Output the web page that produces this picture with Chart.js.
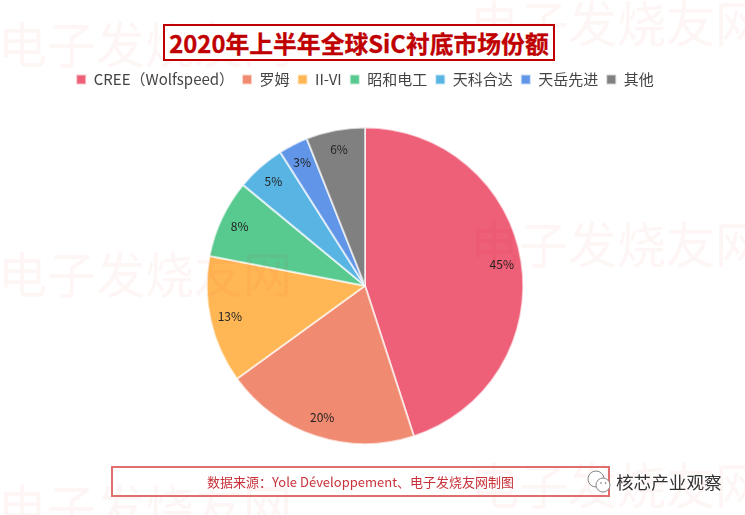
<!DOCTYPE html>
<html>
<head>
<meta charset="utf-8">
<script src="https://cdn.jsdelivr.net/npm/chart.js@4"></script>
<style>
    html, body { margin: 0; padding: 0; background: #fff; }
    body { width: 745px; height: 515px; position: relative; overflow: hidden; font-family: "Noto Sans CJK SC", sans-serif; }
    .wm { position: absolute; color: #d81e1e; opacity: 0.045; font-size: 49px; white-space: nowrap; line-height: 1; }
    #wrap { position: absolute; left: 0; top: 0; width: 745px; height: 515px; }
    #title { position: absolute; left: 163px; top: 24px; width: 388px; height: 33px; border: 2px solid #c00000; background: #fff; color: #c00000; font-size: 23.8px; font-weight: 700; -webkit-text-stroke: 0.3px #c00000; line-height: 33px; text-align: center; white-space: nowrap; }
    #source { position: absolute; left: 111px; top: 466px; width: 495px; height: 27px; border: 2px solid #de6f6e; color: #c8323a; font-size: 13px; line-height: 27px; text-align: center; white-space: nowrap; }
    #brand { position: absolute; left: 616px; top: 470px; color: #333; font-size: 17.6px; line-height: 24px; white-space: nowrap; }
    #icon { position: absolute; left: 586px; top: 468px; }
</style>
</head>
<body>
<div id="wrap"><canvas id="pieChart" width="745" height="515"></canvas></div>
<div class="wm" style="left:-2px;top:17px">电子发烧友网</div>
<div class="wm" style="left:470px;top:-4px">电子发烧友网</div>
<div class="wm" style="left:-2px;top:247px">电子发烧友网</div>
<div class="wm" style="left:470px;top:217px">电子发烧友网</div>
<div class="wm" style="left:-2px;top:480px">电子发烧友网</div>
<div class="wm" style="left:470px;top:458px">电子发烧友网</div>
<div id="title">2020年上半年全球SiC衬底市场份额</div>
<div id="source">数据来源：Yole Développement、电子发烧友网制图</div>
<svg id="icon" width="28" height="28" viewBox="0 0 28 28" fill="#fff" stroke="#888" stroke-width="1">
    <circle cx="10" cy="11" r="8"/>
    <circle cx="17" cy="17" r="7"/>
    <circle cx="15" cy="15" r="0.8" fill="#666" stroke="none"/>
    <circle cx="19.5" cy="15" r="0.8" fill="#666" stroke="none"/>
</svg>
<div id="brand">核芯产业观察</div>
<script>
// 数据
const categories = ['CREE（Wolfspeed）', '罗姆', 'II-VI', '昭和电工', '天科合达', '天岳先进', '其他'];
const shares = [45, 20, 13, 8, 5, 3, 6];
const colors = ['#ee5f78', '#f08a70', '#ffb755', '#58c98f', '#58b4e3', '#6095e8', '#808080'];

// 百分比标签
const percentLabels = {
    id: 'percentLabels',
    afterDatasetsDraw(chart) {
        const ctx = chart.ctx;
        const arcs = chart.getDatasetMeta(0).data;
        ctx.save();
        ctx.font = '12px "Noto Sans CJK SC"';
        ctx.fillStyle = '#222';
        ctx.textAlign = 'center';
        ctx.textBaseline = 'middle';
        arcs.forEach((arc, i) => {
            const p = arc.getProps(['x', 'y', 'startAngle', 'endAngle', 'outerRadius'], true);
            const mid = (p.startAngle + p.endAngle) / 2;
            const r = p.outerRadius * 0.875;
            ctx.fillText(shares[i] + '%', p.x + Math.cos(mid) * r, p.y + Math.sin(mid) * r);
        });
        ctx.restore();
    }
};

// ruimte onder de legenda zodat de taart op de juiste plek staat
const legendGap = {
    id: 'legendGap',
    beforeInit(chart) {
        const fit = chart.legend.fit;
        chart.legend.fit = function () {
            fit.call(this);
            this.height += 29.5;
        };
    }
};

new Chart(document.getElementById('pieChart').getContext('2d'), {
    type: 'pie',
    data: {
        labels: categories,
        datasets: [{
            data: shares,
            backgroundColor: colors,
            borderColor: 'rgba(255,255,255,0.65)',
            borderWidth: 2
        }]
    },
    options: {
        responsive: false,
        animation: false,
        layout: { padding: { top: 64, bottom: 70, right: 15 } },
        plugins: {
            tooltip: { enabled: false },
            legend: {
                position: 'top',
                labels: {
                    boxWidth: 10,
                    boxHeight: 10,
                    padding: 8,
                    color: '#444',
                    font: { size: 15, family: '"Noto Sans CJK SC"' }
                }
            }
        }
    },
    plugins: [percentLabels, legendGap]
});
</script>
</body>
</html>
